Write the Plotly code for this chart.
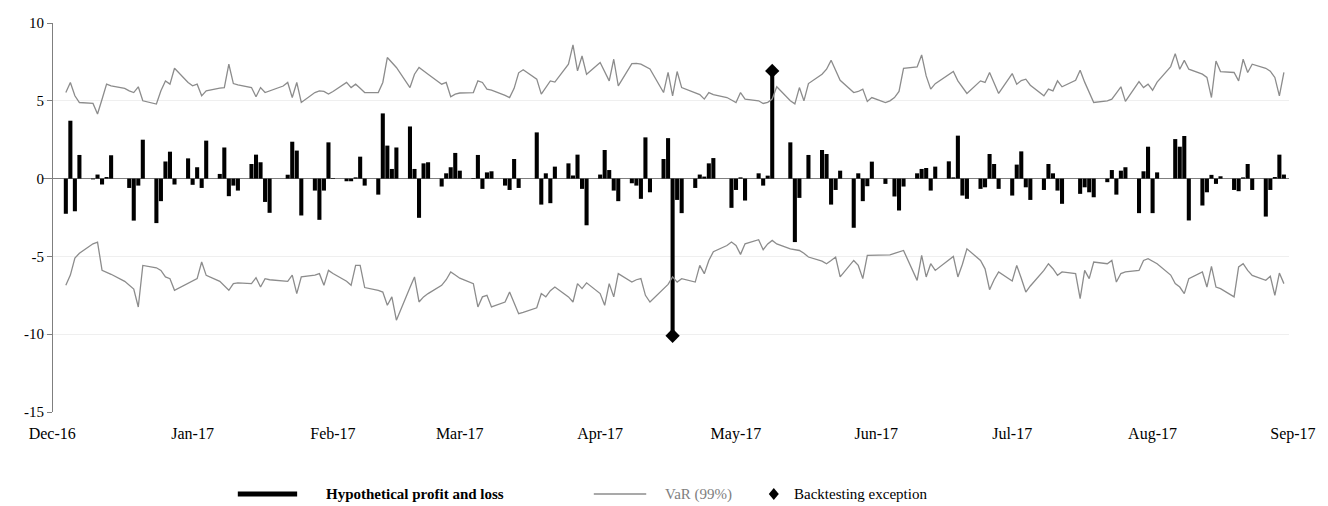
import pandas as pd
import plotly.graph_objects as go

# ---------------- data ----------------
start_date = "2016-12-06"
end_date = "2017-09-01"

pnl = [
    -2.26, 3.72, -2.10, 1.52,
    -0.05, 0.26, -0.38, 0.10, 1.50,
    0.00, -0.60, -2.70, -0.45, 2.50,
    -2.86, -1.45, 1.10, 1.73, -0.38,
    1.30, -0.40, 0.73, -0.60, 2.44,
    0.30, 2.00, -1.13, -0.45, -0.77,
    0.94, 1.54, 1.05, -1.50, -2.20,
    0.00, 0.25, 2.37, 1.80, -2.37,
    -0.77, -2.65, -0.77, 2.33, 0.04,
    -0.17, -0.17, 0.08, 1.41, -0.45,
    -1.03, 4.19, 2.12, 0.62, 2.00,
    3.35, 0.62, -2.52, 0.98, 1.05,
    -0.51, 0.34, 0.73, 1.65, 0.51,
    0.04, 1.52, -0.66, 0.40, 0.47,
    -0.45, -0.73, 1.26, -0.60, 0.00,
    2.97, -1.67, 0.34, -1.58, 0.77,
    0.98, 0.20, 1.54, -0.66, -3.00,
    0.26, 1.84, 0.55, -0.77, -1.45,
    -0.30, -0.45, -1.30, 2.65, -0.88,
    1.26, 2.60, -10.10, -1.37, -2.22,
    -0.60, 0.26, 0.13, 0.98, 1.32,
    0.00, -1.88, -0.73, 0.08, -1.41,
    0.34, -0.45, 0.19, 6.92, 0.00,
    2.33, -4.08, -1.24, 0.00, 1.52,
    1.84, 1.58, -1.67, -0.73, 0.51,
    -3.16, 0.34, -1.45, -0.49, 1.09,
    -0.34, 0.00, -1.15, -2.05, -0.51,
    0.34, 0.62, 0.68, -0.77, 0.77,
    1.11, 0.08, 2.76, -1.09, -1.30,
    -0.66, -0.56, 1.58, 0.94, -0.66,
    -1.09, 0.90, 1.75, -0.56, -1.37,
    -0.73, 0.94, 0.34, -0.77, -1.62,
    0.00, -0.98, -0.56, -0.88, -1.20,
    -0.23, 0.55, -1.03, 0.51, 0.73,
    -2.22, 0.47, 2.05, -2.22, 0.40,
    0.00, 2.54, 2.05, 2.74, -2.69,
    -1.73, -0.88, 0.24, -0.34, 0.15,
    -0.73, -0.81, 0.08, 0.94, -0.73,
    -2.44, -0.73, 0.10, 1.54, 0.26,
]

var_up = [
    5.53, 6.18, 5.32, 4.89,
    4.83, 4.15, 5.10, 6.07, 5.96,
    5.80, 5.64, 5.53, 5.90, 5.00,
    4.79, 5.64, 6.28, 6.07, 7.09,
    6.18, 5.96, 6.07, 5.32, 5.64,
    5.81, 5.85, 7.35, 6.11, 6.03,
    5.85, 5.26, 5.85, 5.53, 5.64,
    5.95, 6.18, 5.21, 6.18, 4.89,
    5.53, 5.64, 5.60, 5.43, 5.60,
    6.18, 5.85, 6.07, 5.80, 5.53,
    5.53, 6.18, 7.78, 7.46, 7.14,
    5.85, 6.71, 7.14, 6.90, 6.71,
    6.07, 6.18, 5.26, 5.43, 5.50,
    5.53, 6.28, 6.18, 5.75, 5.68,
    5.35, 5.21, 5.80, 6.80, 7.00,
    6.39, 5.43, 5.90, 6.28, 6.20,
    7.35, 8.59, 6.92, 7.88, 6.70,
    7.46, 6.90, 6.28, 7.67, 5.96,
    7.39, 7.40, 7.35, 7.20, 7.05,
    5.53, 6.82, 5.32, 6.88, 5.85,
    5.53, 5.40, 5.11, 5.53, 5.40,
    5.21, 5.05, 4.89, 5.53, 5.11,
    5.00, 4.83, 4.90, 5.11, 5.90,
    5.00, 4.80, 5.85, 5.00, 6.11,
    6.71, 7.03, 7.60, 6.90, 6.32,
    5.53, 5.60, 5.75, 4.96, 5.21,
    4.89, 5.00, 5.21, 5.60, 7.09,
    7.18, 7.95, 6.60, 5.75, 6.10,
    6.70, 6.88, 6.28, 5.90, 5.47,
    6.28, 6.18, 6.82, 6.20, 5.47,
    6.75, 6.07, 6.30, 6.39, 6.00,
    5.32, 5.75, 5.64, 6.28, 5.90,
    6.32, 6.97, 6.20, 5.50, 4.89,
    5.00, 5.11, 5.50, 5.90, 4.96,
    6.24, 5.85, 6.07, 5.68, 6.20,
    7.20, 8.03, 7.03, 7.60, 7.03,
    6.71, 6.50, 5.21, 7.56, 6.88,
    6.82, 6.28, 7.67, 6.82, 7.35,
    7.09, 6.90, 6.50, 5.32, 6.82,
]

var_lo = [
    -6.86, -6.20, -5.10, -4.80,
    -4.19, -4.08, -5.90, -6.00, -6.15,
    -6.60, -6.86, -7.10, -8.25, -5.58,
    -5.73, -5.90, -6.32, -6.43, -7.18,
    -6.75, -6.58, -6.43, -5.36, -6.22,
    -6.60, -6.86, -7.18, -6.75, -6.70,
    -6.75, -6.37, -6.97, -6.43, -6.50,
    -6.55, -6.60, -6.20, -7.39, -6.32,
    -6.20, -6.11, -6.86, -5.90, -6.10,
    -6.60, -6.86, -5.58, -5.58, -7.00,
    -7.18, -7.29, -8.14, -7.60, -9.10,
    -7.00, -6.32, -7.93, -7.60, -7.39,
    -6.86, -6.50, -6.00, -6.20, -6.40,
    -6.75, -8.25, -7.60, -7.50, -8.25,
    -7.93, -7.29, -8.00, -8.68, -8.60,
    -8.30, -7.39, -7.60, -7.20, -6.97,
    -7.60, -7.93, -6.75, -7.07, -6.70,
    -7.39, -8.14, -6.75, -7.60, -6.11,
    -6.65, -6.50, -6.43, -7.50, -7.93,
    -7.07, -6.80, -6.32, -6.65, -6.43,
    -6.65, -5.58, -6.11, -5.26, -4.70,
    -4.30, -4.08, -4.30, -4.87, -4.19,
    -3.93, -4.57, -4.20, -3.97, -4.20,
    -4.51, -4.55, -4.62, -4.80, -5.04,
    -5.30, -5.47, -5.26, -5.04, -6.32,
    -5.26, -5.58, -6.43, -4.94, -4.94,
    -4.94, -4.90, -4.80, -4.70, -4.62,
    -6.54, -4.94, -6.32, -5.47, -5.90,
    -5.26, -5.00, -6.32, -5.50, -4.51,
    -5.26, -5.80, -7.14, -6.50, -6.00,
    -6.58, -5.58, -6.40, -7.29, -6.90,
    -5.90, -5.47, -5.79, -6.22, -6.00,
    -6.11, -7.71, -5.90, -6.43, -5.36,
    -5.47, -5.26, -6.65, -6.10, -6.00,
    -5.90, -5.26, -5.15, -5.30, -5.47,
    -6.20, -6.75, -6.97, -7.39, -6.43,
    -6.00, -6.97, -5.64, -6.97, -7.07,
    -7.60, -5.68, -5.47, -5.90, -6.22,
    -6.54, -6.28, -7.50, -6.07, -6.75,
]

exception_dates = ["2017-04-19", "2017-05-11"]
exception_values = [-10.10, 6.92]

tick_dates = ["2016-12-01", "2017-01-01", "2017-02-01", "2017-03-01", "2017-04-01",
              "2017-05-01", "2017-06-01", "2017-07-01", "2017-08-01", "2017-09-01"]
tick_labels = ["Dec-16", "Jan-17", "Feb-17", "Mar-17", "Apr-17",
               "May-17", "Jun-17", "Jul-17", "Aug-17", "Sep-17"]

y_ticks = [10, 5, 0, -5, -10, -15]
y_tick_labels = ["10", "5", "0", "-5", "-10", "-15"]

legend_names = ["Hypothetical profit and loss", "VaR (99%)", "Backtesting exception"]

dates = pd.bdate_range(start_date, end_date)

# ---------------- layout geometry ----------------
W, H = 1328, 506
ML, MR, MT, MB = 43, 25, 23, 94
PW = W - ML - MR
PH = H - MT - MB
FONT = "Liberation Serif"
VAR_COLOR = "#8c8c8c"


def px_x(px):
    return (px - ML) / PW


def px_y(py):
    return (H - MB - py) / PH


fig = go.Figure()

fig.add_trace(go.Bar(
    x=dates, y=pnl, name=legend_names[0],
    marker=dict(color="black", line=dict(width=0)),
    showlegend=False,
))
fig.add_trace(go.Scatter(
    x=dates, y=var_up, mode="lines", name=legend_names[1],
    line=dict(color=VAR_COLOR, width=1.3), showlegend=False,
))
fig.add_trace(go.Scatter(
    x=dates, y=var_lo, mode="lines", name=legend_names[1],
    line=dict(color=VAR_COLOR, width=1.3), showlegend=False,
))
fig.add_trace(go.Scatter(
    x=pd.to_datetime(exception_dates), y=exception_values, mode="markers",
    name=legend_names[2],
    marker=dict(symbol="diamond", size=11, color="black"),
    showlegend=False,
))

# ---------------- manual legend ----------------
leg_y = px_y(494)
shapes = [
    dict(type="line", xref="paper", yref="paper",
         x0=px_x(240), x1=px_x(300), y0=leg_y, y1=leg_y,
         line=dict(color="black", width=5)),
    dict(type="line", xref="paper", yref="paper",
         x0=px_x(600), x1=px_x(653), y0=leg_y, y1=leg_y,
         line=dict(color=VAR_COLOR, width=1.5)),
    dict(type="path", xref="paper", yref="paper",
         xsizemode="pixel", ysizemode="pixel",
         xanchor=px_x(782), yanchor=leg_y,
         path="M0,6 L5,0 L0,-6 L-5,0 Z",
         fillcolor="black", line=dict(color="black", width=0)),
]
annotations = [
    dict(xref="paper", yref="paper", x=px_x(327), y=leg_y, xanchor="left", yanchor="middle",
         text="<b>" + legend_names[0] + "</b>", showarrow=False,
         font=dict(family=FONT, size=15, color="black")),
    dict(xref="paper", yref="paper", x=px_x(670), y=leg_y, xanchor="left", yanchor="middle",
         text=legend_names[1], showarrow=False,
         font=dict(family=FONT, size=15, color="#808080")),
    dict(xref="paper", yref="paper", x=px_x(800), y=leg_y, xanchor="left", yanchor="middle",
         text=legend_names[2], showarrow=False,
         font=dict(family=FONT, size=15, color="black")),
]

fig.update_layout(
    width=W, height=H,
    margin=dict(l=ML, r=MR, t=MT, b=MB, pad=0),
    paper_bgcolor="white", plot_bgcolor="white",
    bargap=0.1,
    showlegend=False,
    shapes=shapes,
    annotations=annotations,
    font=dict(family=FONT, size=14, color="black"),
    xaxis=dict(
        type="date",
        range=["2016-11-30 23:00", "2017-09-02 03:00"],
        tickmode="array", tickvals=tick_dates, ticktext=tick_labels,
        showgrid=False, showline=False, zeroline=False,
        ticks="", ticklabelstandoff=10, ticklabelshift=9,
        ticklabeloverflow="allow",
        tickfont=dict(family=FONT, size=16, color="black"),
        fixedrange=True,
    ),
    yaxis=dict(
        range=[-15, 10],
        tickmode="array", tickvals=y_ticks, ticktext=y_tick_labels,
        anchor="free", position=(52 - ML) / PW,
        showline=True, linecolor="#7f7f7f", linewidth=1,
        ticks="outside", ticklen=5, tickcolor="#7f7f7f",
        showgrid=True, gridcolor="#efefef", gridwidth=1,
        zeroline=True, zerolinecolor="#7f7f7f", zerolinewidth=1,
        tickfont=dict(family=FONT, size=15, color="black"),
        fixedrange=True,
    ),
)

fig.write_html(
    "out.html",
    config={"displayModeBar": False, "staticPlot": True},
    post_script="document.body.style.margin='0px';document.body.style.overflow='hidden';",
)
